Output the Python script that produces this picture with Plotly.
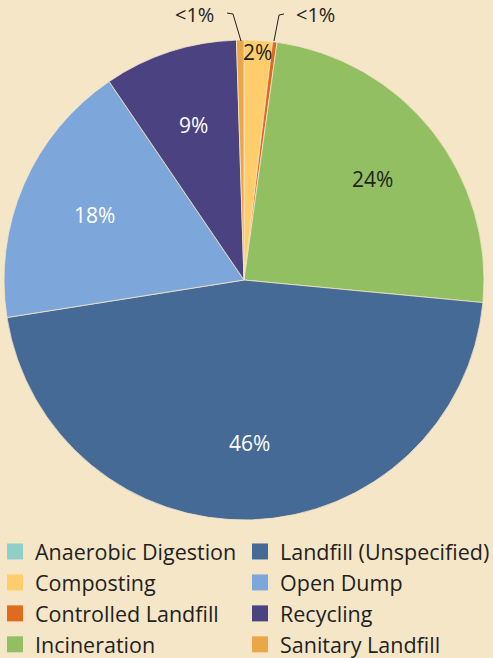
import math
import plotly.graph_objects as go

categories = ["Anaerobic Digestion", "Composting", "Controlled Landfill", "Incineration",
              "Landfill (Unspecified)", "Open Dump", "Recycling", "Sanitary Landfill"]
values = [0.0, 1.9, 0.3, 24.3, 46.0, 18.0, 9.0, 0.5]
colors = ["#8ECFC9", "#FFCD6B", "#E06B1E", "#92BF61", "#466A96", "#7DA7DA", "#4A4281", "#ECA64A"]
small_label = "&lt;1%"
legend1_items = [0, 1, 2, 3]
legend2_items = [4, 5, 6, 7]

BG = "#F5E6C8"
INK = "#231F20"
FONT = "Open Sans, Liberation Sans, Arial, sans-serif"
W, H = 493, 658
# pie geometry (pixels): centre and radius
CX, CY, R = 244, 280, 240

fig = go.Figure()
fig.add_trace(go.Pie(
    labels=categories, values=values, sort=False, direction="clockwise", rotation=0,
    marker=dict(colors=colors, line=dict(color=BG, width=0.8)),
    textinfo="none", hoverinfo="label+percent", showlegend=False,
    domain=dict(x=[(CX - R) / W, (CX + R) / W], y=[1 - (CY + R) / H, 1 - (CY - R) / H]),
))

for k, group in (("legend", legend1_items), ("legend2", legend2_items)):
    for i in group:
        fig.add_trace(go.Scatter(x=[None], y=[None], mode="markers", name=categories[i],
                                 marker=dict(symbol="square", size=16, color=colors[i]),
                                 hoverinfo="skip", legend=k))

# percentage labels placed along each slice's mid-angle
total = sum(values)
cum = 0.0
for i, v in enumerate(values):
    mid = (cum + v / 2) / total * 2 * math.pi
    cum += v
    frac = v / total
    if frac < 0.01:
        continue
    rr = 0.95 * R if frac < 0.05 else 0.68 * R
    px = CX + rr * math.sin(mid)
    py = CY - rr * math.cos(mid)
    col = "white" if i in (4, 5, 6) else INK
    fig.add_annotation(x=px / W, y=1 - py / H, xref="paper", yref="paper",
                       xanchor="center", yanchor="middle",
                       text=f"{frac:.0%}", showarrow=False,
                       font=dict(family=FONT, size=21, color=col))

# "<1%" callouts with bent leader lines
for lx in (194, 315):
    fig.add_annotation(x=lx / W, y=1 - 15 / H, xref="paper", yref="paper", text=small_label,
                       xanchor="center", yanchor="middle",
                       showarrow=False, font=dict(family=FONT, size=20, color=INK))
fig.add_shape(type="path", xref="paper", yref="paper",
              path=f"M {227/W} {1-13/H} L {233/W} {1-14/H} L {241/W} {1-41/H}",
              line=dict(color=INK, width=1))
fig.add_shape(type="path", xref="paper", yref="paper",
              path=f"M {284/W} {1-14/H} L {279/W} {1-15/H} L {274/W} {1-41/H}",
              line=dict(color=INK, width=1))

legend_style = dict(orientation="v", yanchor="top", xanchor="left",
                    font=dict(family=FONT, size=21.5, color=INK),
                    bgcolor="rgba(0,0,0,0)", borderwidth=0, itemclick=False, tracegroupgap=0)
fig.update_layout(
    width=W, height=H, margin=dict(l=0, r=0, t=0, b=0, autoexpand=False),
    paper_bgcolor=BG, plot_bgcolor=BG,
    xaxis=dict(visible=False), yaxis=dict(visible=False),
    legend=dict(x=-5 / W, y=1 - 531 / H, **legend_style),
    legend2=dict(x=240 / W, y=1 - 531 / H, **legend_style),
    font=dict(family=FONT),
)
fig.write_html("out.html", config={"displayModeBar": False},
               post_script="document.body.style.margin='0';")
